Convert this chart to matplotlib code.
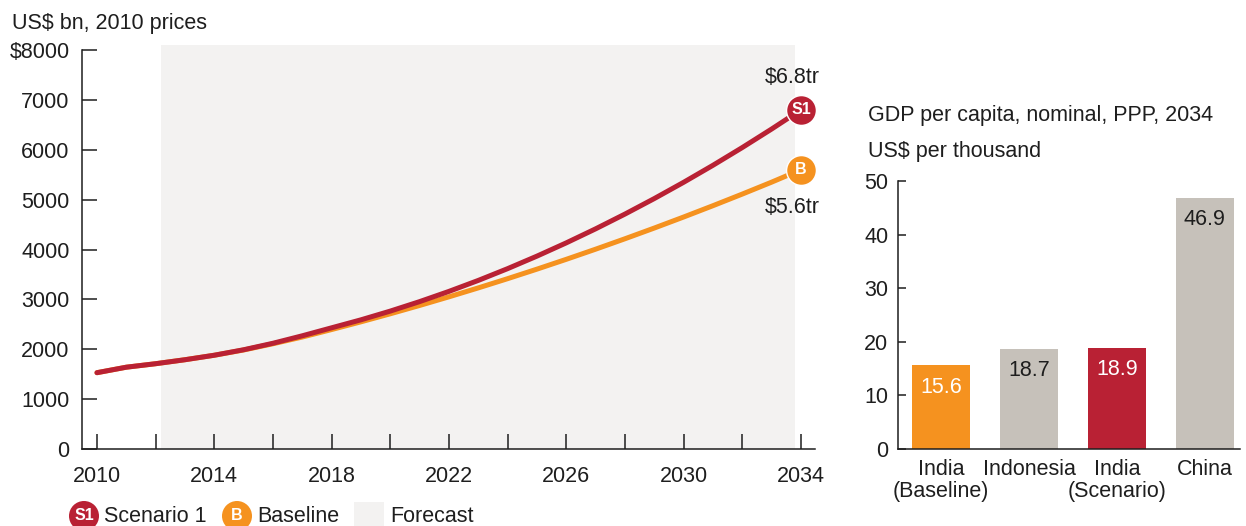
import numpy as np
import matplotlib
matplotlib.use("Agg")
import matplotlib.pyplot as plt
from matplotlib.patches import Circle, Rectangle

plt.rcParams["font.family"] = ["Liberation Sans", "DejaVu Sans"]

# --- data ---------------------------------------------------------------------
years = np.arange(2010, 2035)
scenario1 = [1530, 1640, 1710, 1790, 1880, 1990, 2120, 2270, 2430, 2590,
             2765, 2955, 3160, 3380, 3616, 3867, 4133, 4414, 4710, 5021,
             5347, 5688, 6044, 6415, 6800]
baseline = [1530, 1640, 1710, 1790, 1880, 1985, 2110, 2245, 2395, 2550,
            2711, 2878, 3051, 3230, 3415, 3606, 3803, 4006, 4215, 4430,
            4651, 4878, 5111, 5350, 5600]
forecast_span = (2012.2, 2033.8)
end_labels = ["$6.8tr", "$5.6tr"]

countries = ["India\n(Baseline)", "Indonesia", "India\n(Scenario)", "China"]
gdp_pc = [15.6, 18.7, 18.9, 46.9]

RED = "#B92134"
ORANGE = "#F5921F"
GREY = "#C6C1BA"
SHADE = "#F3F2F1"
INK = "#1E1E1E"
FS = 15.5

fig = plt.figure(figsize=(12.46, 5.26), dpi=100)

# --- left: GDP line chart -----------------------------------------------------
ax = fig.add_axes([82 / 1246, 77 / 526, 733 / 1246, 399 / 526])
ax.axvspan(*forecast_span, ymin=0, ymax=1.013, color=SHADE, lw=0, clip_on=False, zorder=0)
ax.plot(years, baseline, color=ORANGE, lw=3.6, solid_capstyle="round", zorder=3)
ax.plot(years, scenario1, color=RED, lw=3.6, solid_capstyle="round", zorder=4)

for series, col, tag, lab, dy in [(scenario1, RED, "S1", end_labels[0], 23),
                                  (baseline, ORANGE, "B", end_labels[1], -27)]:
    ax.plot(years[-1], series[-1], "o", ms=21.5, color=col, mec="white", mew=1.0,
            zorder=5, clip_on=False)
    ax.text(years[-1], series[-1], tag, color="white", fontsize=11.5, weight="bold",
            ha="center", va="center", zorder=6)
    ax.annotate(lab, (years[-1], series[-1]), xytext=(-6, dy), textcoords="offset points",
                ha="center", va="center", fontsize=FS, color=INK)

ax.set_xlim(2009.49, 2034.48)
ax.set_ylim(0, 8000)
ax.set_xticks(np.arange(2010, 2035, 2))
ax.set_xticklabels([str(y) if y % 4 == 2 else "" for y in range(2010, 2035, 2)])
ax.set_yticks(np.arange(0, 8001, 1000))
ax.set_yticklabels([str(v) for v in range(0, 8000, 1000)] + ["$8000"])
ax.tick_params(axis="x", direction="in", length=11, width=1.1, pad=12,
               labelsize=FS, colors=INK)
ax.tick_params(axis="y", direction="in", length=11, width=1.1, pad=9,
               labelsize=FS, colors=INK)
for s in ["top", "right"]:
    ax.spines[s].set_visible(False)
for s in ["left", "bottom"]:
    ax.spines[s].set_linewidth(1.1)
    ax.spines[s].set_color(INK)
ax.set_facecolor("none")

fig.text(12 / 1246, 1 - 23 / 526, "US$ bn, 2010 prices", fontsize=FS, color=INK,
         ha="left", va="center")

# --- right: GDP per capita bars -----------------------------------------------
bx = fig.add_axes([898 / 1246, 77 / 526, 342 / 1246, 268 / 526])
pos = np.arange(len(countries))
bars = bx.bar(pos, gdp_pc, width=0.66, color=[ORANGE, GREY, RED, GREY], zorder=2)
for b, v, tc in zip(bars, gdp_pc, ["white", INK, "white", INK]):
    bx.annotate(f"{v}", (b.get_x() + b.get_width() / 2, v), xytext=(0, -16),
                textcoords="offset points", ha="center", va="center",
                fontsize=FS, color=tc)
bx.set_xlim(-0.49, 3.40)
bx.set_ylim(0, 50)
bx.set_yticks(np.arange(0, 51, 10))
bx.set_xticks(pos)
bx.set_xticklabels(countries, fontsize=FS, color=INK, linespacing=1.1)
bx.tick_params(axis="x", length=0, pad=7)
bx.tick_params(axis="y", direction="in", length=6, width=1.1, pad=7,
               labelsize=FS, colors=INK)
for s in ["top", "right"]:
    bx.spines[s].set_visible(False)
for s in ["left", "bottom"]:
    bx.spines[s].set_linewidth(1.1)
    bx.spines[s].set_color(INK)

fig.text(868 / 1246, 1 - 115 / 526, "GDP per capita, nominal, PPP, 2034",
         fontsize=FS, color=INK, ha="left", va="center")
fig.text(868 / 1246, 1 - 152 / 526, "US$ per thousand",
         fontsize=FS, color=INK, ha="left", va="center")

# --- legend along the bottom edge (pixel coordinates) -------------------------
lg = fig.add_axes([0, 0, 1, 1])
lg.set_xlim(0, 1246)
lg.set_ylim(526, 0)
lg.axis("off")
lg.patch.set_visible(False)
for cx, col, tag, lab in [(84, RED, "S1", "Scenario 1"), (237, ORANGE, "B", "Baseline")]:
    lg.add_patch(Circle((cx, 516), 15, color=col, lw=0))
    lg.text(cx, 516, tag, color="white", fontsize=11.5, weight="bold",
            ha="center", va="center")
    lg.text(cx + 20, 516, lab, fontsize=FS, color=INK, ha="left", va="center")
lg.add_patch(Rectangle((354, 502), 30, 30, color=SHADE, lw=0))
lg.text(390, 516, "Forecast", fontsize=FS, color=INK, ha="left", va="center")

fig.savefig("out.png", dpi=100)
